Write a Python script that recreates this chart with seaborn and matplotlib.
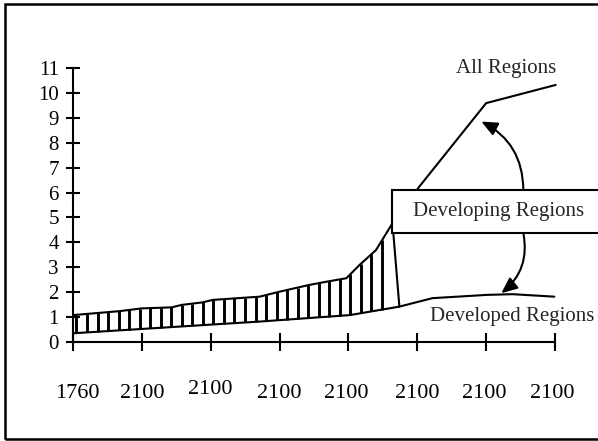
import numpy as np
import matplotlib
matplotlib.use("Agg")
import matplotlib.pyplot as plt
import matplotlib.transforms as mtransforms
import seaborn as sns
from matplotlib.patches import Rectangle

# --- data --------------------------------------------------------------
tick_labels = ["1760", "2100", "2100", "2100", "2100", "2100", "2100", "2100"]
y_ticks = list(range(0, 12))

all_x = [0, 0.68, 1.0, 1.43, 1.58, 1.88, 2.03, 2.71, 3.0, 3.43, 3.68, 3.97,
         4.16, 4.40, 4.64, 5.03, 6.0, 7.01]
all_y = [1.08, 1.24, 1.35, 1.39, 1.49, 1.59, 1.69, 1.82, 2.02, 2.29, 2.42, 2.56,
         3.09, 3.69, 4.77, 6.24, 9.59, 10.32]

dev_x = [0, 1.84, 2.71, 4.02, 4.74, 5.22, 6.0, 6.38, 6.99]
dev_y = [0.35, 0.67, 0.82, 1.08, 1.42, 1.76, 1.89, 1.92, 1.82]

gap_end_top = 4.64      # where the shaded gap stops on the upper curve
gap_end_bottom = 4.74   # ... and on the lower curve

sns.set_theme(style="ticks")
plt.rcParams["font.family"] = ["Liberation Serif", "DejaVu Serif"]

W, H = 598, 441
fig = plt.figure(figsize=(W / 100, H / 100), dpi=100)
ax = fig.add_axes([73 / W, (H - 342) / H, (555 - 73) / W, (342 - 68) / H])

lw = 1.5
sns.lineplot(x=all_x, y=all_y, color="black", lw=lw, ax=ax, sort=False,
             clip_on=False)
sns.lineplot(x=dev_x, y=dev_y, color="black", lw=lw, ax=ax, sort=False,
             clip_on=False)

# vertical shading between the two curves
xs = np.arange(0.05, gap_end_top - 0.05, 0.153)
ax.vlines(xs, np.interp(xs, dev_x, dev_y), np.interp(xs, all_x, all_y),
          color="black", lw=2.1)
ax.plot([gap_end_top, gap_end_bottom],
        [np.interp(gap_end_top, all_x, all_y), np.interp(gap_end_bottom, dev_x, dev_y)],
        color="black", lw=lw)

ax.set_xlim(0, 7)
ax.set_ylim(0, 11)
ax.set_xticks(range(len(tick_labels)))
ax.set_xticklabels(tick_labels)
ax.set_yticks(y_ticks)
for s in ["top", "right"]:
    ax.spines[s].set_visible(False)
for s in ["left", "bottom"]:
    ax.spines[s].set_linewidth(1.5)
    ax.spines[s].set_color("black")
ax.tick_params(axis="y", direction="inout", length=10.5, width=1.5,
               labelsize=15, pad=5, colors="black")
ax.tick_params(axis="x", direction="inout", length=13, width=1.5,
               labelsize=16, pad=24, colors="black")
ax.set_xlabel("")
ax.set_ylabel("")

# the labels along the bottom sit a little unevenly in the original
shift = {0: (4, 0), 2: (0, 4), 4: (-2, 0), 6: (-2, 0), 7: (-3, 0)}
for i, lab in enumerate(ax.get_xticklabels()):
    dx, dy = shift.get(i, (0, 0))
    lab.set_transform(lab.get_transform() +
                      mtransforms.ScaledTranslation(dx / 100, dy / 100,
                                                    fig.dpi_scale_trans))

# labels and callout box
ax.text(6.29, 10.96, "All Regions", ha="center", va="center", fontsize=15)
ax.text(6.38, 1.04, "Developed Regions", ha="center", va="center", fontsize=15)
ax.add_patch(Rectangle((4.64, 4.38), 3.5, 1.73, facecolor="white",
                       edgecolor="black", lw=1.5, clip_on=False, zorder=5))
ax.text(6.18, 5.23, "Developing Regions", ha="center", va="center",
        fontsize=15, zorder=6)

arrow = dict(arrowstyle="-|>,head_length=0.8,head_width=0.35", color="black",
             lw=1.5, shrinkA=0, shrinkB=0)
ax.annotate("", xy=(5.93, 8.85), xytext=(6.54, 6.12),
            arrowprops=dict(arrow, connectionstyle="arc3,rad=0.3"))
ax.annotate("", xy=(6.22, 1.96), xytext=(6.54, 4.38),
            arrowprops=dict(arrow, connectionstyle="arc3,rad=-0.3"))

# outer frame (right side runs off the image)
fig.add_artist(Rectangle((4.5 / W, (H - 438.5) / H), 1.2, (438.5 - 4) / H,
                         transform=fig.transFigure, fill=False,
                         edgecolor="black", lw=1.8))

fig.savefig("out.png", dpi=100, facecolor="white")
